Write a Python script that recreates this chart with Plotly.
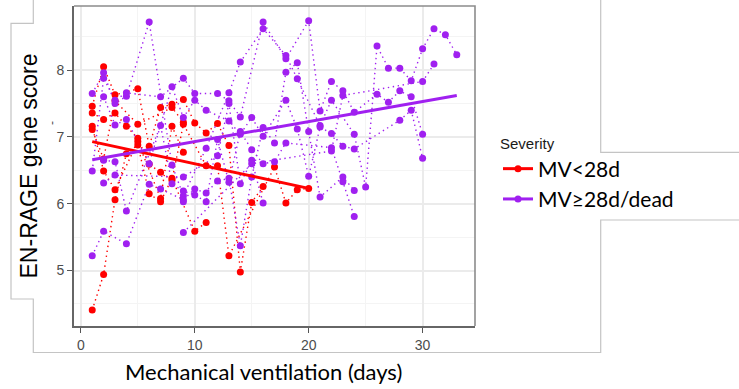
import plotly.graph_objects as go

# ---------------- data ----------------
# Severity group MV<28d : one list per patient
red_days = [
    [1, 2, 3, 4, 5, 6, 7, 8, 10, 11],
    [1, 2, 3, 5, 6, 7, 8, 9, 10, 11, 12, 13, 14, 15, 16],
    [1, 2, 3, 4, 5, 6, 7, 8, 9, 11, 12, 13, 17, 18, 19, 20],
    [1, 2, 3, 5, 7, 8, 9],
    [1, 2, 3, 5, 8, 9],
]
red_scores = [
    [4.41, 4.94, 6.06, 6.75, 6.88, 6.15, 6.03, 6.38, 5.59, 5.72],
    [7.46, 8.05, 7.63, 7.72, 6.86, 7.44, 7.49, 7.56, 7.21, 7.06, 7.20, 6.87, 4.98, 6.02, 6.26],
    [7.36, 7.26, 7.36, 7.16, 6.98, 6.59, 6.47, 6.35, 7.19, 6.57, 6.57, 5.22, 6.55, 6.01, 6.21, 6.23],
    [7.16, 6.49, 6.21, 6.93, 6.08, 7.16, 6.77],
    [7.11, 6.67, 7.54, 7.19, 7.44, 7.22],
]

# Severity group MV>=28d/dead : one list per patient
purple_days = [
    [1, 2, 3, 4, 6, 8, 9, 11, 13, 14, 16, 18, 19, 21, 22, 24, 25, 26, 27, 28, 29, 30, 31, 32, 33],
    [1, 2, 3, 4, 7, 9, 10, 12, 13, 14, 16, 18, 20, 21, 22, 23, 24, 26, 27, 28, 29, 30],
    [1, 2, 4, 6, 7, 9, 10, 11, 12, 13, 14, 15, 16, 17, 18, 19, 20, 21, 23, 24],
    [2, 3, 4, 6, 8, 9, 10, 11, 13, 14, 15, 16, 18, 19, 20, 21, 22, 23, 24, 28, 29, 30],
    [2, 3, 4, 7, 8, 9, 10, 11, 12, 13, 14, 15, 16, 17, 18, 22, 23, 24],
    [2, 3, 9, 12, 13, 14, 15, 16],
    [9, 15, 22, 23, 30, 31],
    [9],
]
purple_scores = [
    [7.65, 7.96, 7.50, 7.61, 8.72, 6.58, 6.12, 6.83, 7.66, 8.12, 8.62, 8.22, 7.87, 7.17, 7.55, 7.04, 6.25, 8.36, 8.03, 8.03, 7.84, 8.32, 8.62, 8.53, 8.23],
    [6.49, 7.88, 7.55, 7.66, 7.60, 7.88, 7.65, 7.65, 7.54, 7.30, 8.72, 8.17, 8.74, 7.39, 7.83, 7.69, 7.37, 7.64, 7.52, 7.69, 7.60, 7.04],
    [5.22, 5.59, 5.40, 6.29, 6.22, 6.06, 6.22, 6.16, 6.34, 6.38, 5.37, 6.40, 7.14, 6.91, 7.97, 8.11, 7.08, 6.10, 6.40, 6.20],
    [7.60, 7.18, 7.26, 6.60, 7.75, 7.29, 7.55, 7.40, 7.24, 7.04, 7.29, 7.01, 7.55, 7.12, 6.41, 7.15, 7.05, 6.86, 6.82, 7.25, 7.40, 6.68],
    [6.65, 6.63, 5.89, 7.17, 6.30, 6.19, 6.13, 6.03, 6.96, 6.32, 7.08, 6.81, 6.60, 6.63, 6.91, 6.84, 6.33, 5.81],
    [6.31, 6.43, 6.40, 6.72, 7.50, 6.30, 6.65, 6.01],
    [5.57, 6.60, 6.79, 7.62, 7.83, 8.09],
    [6.03],
]

# linear trend per group (end points)
red_fit_days = [1, 20]
red_fit_scores = [6.93, 6.23]
purple_fit_days = [1, 33]
purple_fit_scores = [6.66, 7.62]

group_names = ["MV<28d", "MV≥28d/dead"]
x_ticks = [0, 10, 20, 30]
y_ticks = [5, 6, 7, 8]
x_title = "Mechanical ventilation (days)"
y_title = "EN-RAGE gene score"
legend_title = "Severity"

# ---------------- styling ----------------
RED = "#FF0000"
PURPLE = "#A020F0"
W, H = 739, 389
ML, MR, MT, MB = 74, 264, 6, 63
PW, PH = W - ML - MR, H - MT - MB


def px(xp):
    return (xp - ML) / PW


def py(yp):
    return 1 - (yp - MT) / PH


fig = go.Figure()

groups = [
    (red_days, red_scores, RED, "g1"),
    (purple_days, purple_scores, PURPLE, "g2"),
]

# dotted patient trajectories
for days, scores, col, grp in groups:
    for d, s in zip(days, scores):
        fig.add_trace(go.Scatter(
            x=d, y=s, mode="lines", legendgroup=grp, showlegend=False,
            line=dict(color=col, width=1.4, dash="1.4px,3.6px"), hoverinfo="skip"))

# points
for days, scores, col, grp in groups:
    for d, s in zip(days, scores):
        fig.add_trace(go.Scatter(
            x=d, y=s, mode="markers", legendgroup=grp, showlegend=False,
            marker=dict(color=col, size=7, line=dict(width=0))))

# trend lines
for fx, fy, col, grp in [(red_fit_days, red_fit_scores, RED, "g1"),
                         (purple_fit_days, purple_fit_scores, PURPLE, "g2")]:
    fig.add_trace(go.Scatter(x=fx, y=fy, mode="lines", legendgroup=grp,
                             showlegend=False, line=dict(color=col, width=3)))

# legend entries
for name, col, grp in [(group_names[0], RED, "g1"), (group_names[1], PURPLE, "g2")]:
    fig.add_trace(go.Scatter(x=[None], y=[None], mode="lines+markers", name=name,
                             legendgroup=grp, line=dict(color=col, width=3),
                             marker=dict(color=col, size=7)))

axis_common = dict(
    showgrid=True, gridcolor="#EBEBEB", gridwidth=1.6,
    showline=True, linecolor="#666666", linewidth=2,
    ticks="outside", ticklen=5, tickwidth=1.2, tickcolor="#555555",
    tickfont=dict(family="Liberation Sans, Arial", size=14, color="#4D4D4D"),
    zeroline=False,
)

fig.update_xaxes(range=[-0.6, 34.6], tickvals=x_ticks,
                 minor=dict(tickvals=[5, 15, 25], showgrid=True,
                            gridcolor="#F4F4F4", gridwidth=0.9),
                 **axis_common)
fig.update_yaxes(range=[4.17, 8.96], tickvals=y_ticks,
                 minor=dict(tickvals=[4.5, 5.5, 6.5, 7.5, 8.5], showgrid=True,
                            gridcolor="#F4F4F4", gridwidth=0.9),
                 title=dict(text=y_title,
                            font=dict(family="Liberation Sans, Arial", size=23,
                                      color="#000000"),
                            standoff=12),
                 **axis_common)

shapes = [
    # top and right panel border
    dict(type="path", xref="paper", yref="paper",
         path="M0,1 L1,1 L1,0", line=dict(color="#8C8C8C", width=1.6)),
    # frame lines of the composed figure
    dict(type="path", xref="paper", yref="paper",
         path=(f"M{px(33.3)},{py(0)} L{px(33.3)},{py(23.3)} L{px(11)},{py(23.3)} "
               f"L{px(11)},{py(299)} L{px(33.3)},{py(299)} L{px(33.3)},{py(352.5)} "
               f"L{px(600.7)},{py(352.5)} L{px(600.7)},{py(220)} L{px(740)},{py(220)}"),
         line=dict(color="#C4C4C4", width=1.2)),
    dict(type="path", xref="paper", yref="paper",
         path=f"M{px(600.7)},{py(-1)} L{px(600.7)},{py(152.3)} L{px(740)},{py(152.3)}",
         line=dict(color="#C4C4C4", width=1.2)),
]

annotations = [
    dict(text=x_title, xref="paper", yref="paper", x=px(263), y=py(371),
         xanchor="center", yanchor="middle", showarrow=False,
         font=dict(family="Lato", size=22, color="#000000")),
    dict(text="-", xref="paper", yref="paper", x=px(43), y=py(123), showarrow=False,
         textangle=-90, font=dict(family="Liberation Sans, Arial", size=12,
                                  color="#4D4D4D")),
]

fig.update_layout(
    width=W, height=H,
    margin=dict(l=ML, r=MR, t=MT, b=MB),
    paper_bgcolor="white", plot_bgcolor="white",
    shapes=shapes, annotations=annotations,
    showlegend=True,
    legend=dict(
        x=px(498), y=py(129), xanchor="left", yanchor="top",
        title=dict(text=legend_title,
                   font=dict(family="Liberation Sans, Arial", size=15,
                             color="#1A1A1A")),
        font=dict(family="Lato", size=21, color="#000000"),
        bgcolor="rgba(0,0,0,0)", itemwidth=30, tracegroupgap=0,
    ),
)

fig.write_html("out.html",
               config={"displayModeBar": False},
               post_script="document.body.style.margin='0';"
                           "document.body.style.overflow='hidden';")
